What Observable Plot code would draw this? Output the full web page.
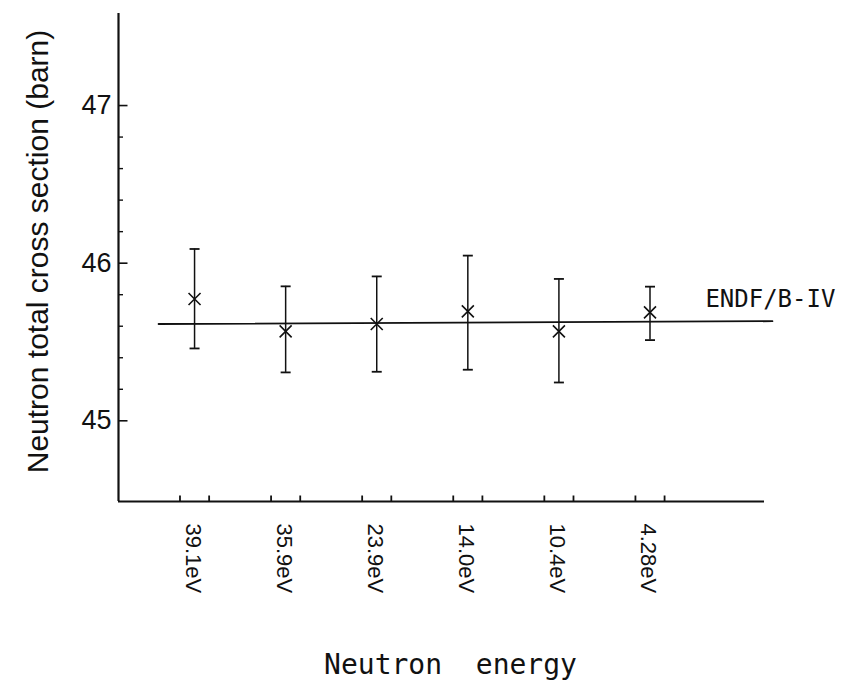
<!DOCTYPE html>
<html>
<head>
<meta charset="utf-8">
<script src="https://cdn.jsdelivr.net/npm/d3@7"></script>
<script src="https://cdn.jsdelivr.net/npm/@observablehq/plot@0.6"></script>
<style>
  html, body { margin: 0; padding: 0; background: #fff; }
</style>
</head>
<body>
<div id="chart"></div>
<script>
// Measured neutron total cross sections (barn) at six resonance-free energies
const energies   = ["39.1eV", "35.9eV", "23.9eV", "14.0eV", "10.4eV", "4.28eV"];
const sigma      = [45.773, 45.567, 45.614, 45.694, 45.567, 45.688];
const sigmaHigh  = [46.090, 45.853, 45.916, 46.048, 45.900, 45.851];
const sigmaLow   = [45.459, 45.307, 45.311, 45.324, 45.243, 45.512];

// ENDF/B-IV evaluated curve, given at its two ends (position index, barn)
const endfX = [-0.395, 6.344];
const endfY = [45.614, 45.632];
const endfLabel = "ENDF/B-IV";

// Axis ticks and titles
const majorTicks = [45, 46, 47];
const minorTicks = [45.2, 45.4, 45.6, 45.8, 46.2, 46.4, 46.6, 46.8];
const yTitle = "Neutron total cross section (barn)";
const xTitle = "Neutron  energy";

const xDomain = [-0.835, 6.257];
const yDomain = [44.488, 47.584];

const rows = energies.map((e, i) => ({i, e, y: sigma[i], hi: sigmaHigh[i], lo: sigmaLow[i]}));
const endf = endfX.map((x, k) => ({x, y: endfY[k]}));
// each energy point is bracketed by a pair of short ticks on the base line
const binHalf = 0.16;
const binEdges = rows.flatMap(d => [d.i - binHalf, d.i + binHalf]);

// small path symbols: sizes come from the dot radius r
const rad = size => Math.sqrt(size / Math.PI);
const capSymbol   = {draw(ctx, size) { const r = rad(size); ctx.moveTo(-r, 0); ctx.lineTo(r, 0); }};
const crossSymbol = {draw(ctx, size) { const r = rad(size); ctx.moveTo(-r, -r); ctx.lineTo(r, r); ctx.moveTo(-r, r); ctx.lineTo(r, -r); }};
const upTick      = {draw(ctx, size) { const r = rad(size); ctx.moveTo(0, 0); ctx.lineTo(0, -r); }};
const rightTick   = {draw(ctx, size) { const r = rad(size); ctx.moveTo(0, 0); ctx.lineTo(r, 0); }};

const ink = "#111";

const chart = Plot.plot({
  width: 841,
  height: 689,
  marginLeft: 118,
  marginRight: 77,
  marginTop: 13,
  marginBottom: 188,
  x: {domain: xDomain},
  y: {domain: yDomain},
  style: {fontFamily: "'Liberation Sans', Arial, sans-serif", color: ink, background: "#fff", overflow: "visible"},
  marks: [
    // frame: left and bottom axis lines
    Plot.ruleX([xDomain[0]], {stroke: ink, strokeWidth: 2.2}),
    Plot.ruleY([yDomain[0]], {stroke: ink, strokeWidth: 2.2}),

    // inward ticks on the y axis
    Plot.dot(majorTicks, {x: () => xDomain[0], y: d => d, symbol: rightTick, r: 9, stroke: ink, strokeWidth: 1.6}),
    Plot.dot(minorTicks, {x: () => xDomain[0], y: d => d, symbol: rightTick, r: 4.5, stroke: ink, strokeWidth: 1.4}),

    // bracketing ticks on the x axis
    Plot.dot(binEdges, {x: d => d, y: () => yDomain[0], symbol: upTick, r: 6, stroke: ink, strokeWidth: 1.8}),

    // tick labels
    Plot.axisY({ticks: majorTicks, tickSize: 0, tickPadding: 7, fontSize: 27, tickFormat: d => String(d), label: null}),
    Plot.axisX({ticks: rows.map(d => d.i), tickSize: 0, tickPadding: 22, tickRotate: 90, fontSize: 22,
                dx: -2, tickFormat: i => energies[i], label: null}),

    // ENDF/B-IV evaluation
    Plot.line(endf, {x: "x", y: "y", stroke: ink, strokeWidth: 1.8}),
    Plot.text([endf[endf.length - 1]], {x: "x", y: "y", text: () => endfLabel, textAnchor: "end", dx: 63, dy: -22,
               fontFamily: "'DejaVu Sans Mono', monospace", fontSize: 24, fill: ink}),

    // error bars with caps
    Plot.ruleX(rows, {x: "i", y1: "lo", y2: "hi", stroke: ink, strokeWidth: 1.5}),
    Plot.dot(rows, {x: "i", y: "hi", symbol: capSymbol, r: 5, stroke: ink, strokeWidth: 1.8}),
    Plot.dot(rows, {x: "i", y: "lo", symbol: capSymbol, r: 5, stroke: ink, strokeWidth: 1.8}),

    // measured values
    Plot.dot(rows, {x: "i", y: "y", symbol: crossSymbol, r: 6, stroke: ink, strokeWidth: 1.6}),

    // axis titles
    Plot.text([yTitle], {frameAnchor: "left", textAnchor: "middle", lineAnchor: "middle", rotate: -90,
                         dx: -80, dy: -6, fontSize: 30, fill: ink}),
    Plot.text([xTitle], {frameAnchor: "bottom", textAnchor: "middle", lineAnchor: "middle", dx: 9, dy: 164,
                         fontSize: 28, fill: ink, fontFamily: "'DejaVu Sans Mono', monospace"})
  ]
});

document.getElementById("chart").appendChild(chart);
</script>
</body>
</html>
